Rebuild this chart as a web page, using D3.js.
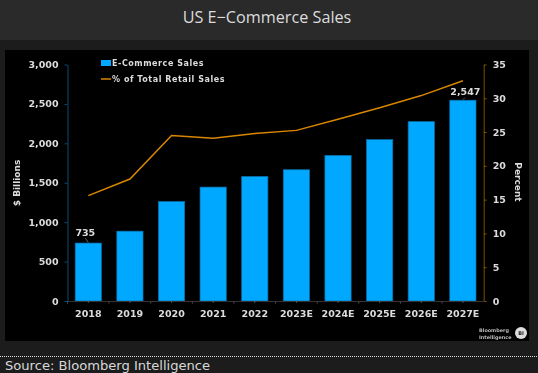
<!DOCTYPE html>
<html><head><meta charset="utf-8">
<script src="https://cdn.jsdelivr.net/npm/d3@7"></script>
<style>html,body{margin:0;padding:0;background:#1c1c1c}svg{display:block}</style>
</head><body>
<svg id="c" width="538" height="373"></svg>
<script>
const categories=["2018","2019","2020","2021","2022","2023E","2024E","2025E","2026E","2027E"];
const salesValues=[735,886,1262,1445,1580,1665,1847,2047,2275,2547];
const shareValues=[15.6,18.05,24.5,24.1,24.8,25.25,26.9,28.6,30.4,32.6];
const leftTicks=[0,500,1000,1500,2000,2500,3000];
const rightTicks=[0,5,10,15,20,25,30,35];
const chartTitle="US E\u2212Commerce Sales";
const sourceText="Source: Bloomberg Intelligence";
const legendLabels=["E-Commerce Sales","% of Total Retail Sales"];
const labelled={"2018":"735","2027E":"2,547"};

const font="'DejaVu Sans',sans-serif";
const outer=d3.select("#c");
outer.append("rect").attr("width",538).attr("height",373).attr("fill","#1c1c1c");
outer.append("rect").attr("width",538).attr("height",40).attr("fill","#2a2a2a");
outer.append("rect").attr("x",5).attr("y",50).attr("width",524).attr("height",291).attr("fill","#000");
outer.append("text").attr("x",267).attr("y",22.5).attr("text-anchor","middle").attr("font-family","'Open Sans',sans-serif").attr("font-size",16.2).attr("fill","#dcdcdc").text(chartTitle);
outer.append("line").attr("x1",0).attr("x2",538).attr("y1",356.5).attr("y2",356.5).attr("stroke","#ddd").attr("stroke-dasharray","1 1");
outer.append("text").attr("x",5).attr("y",370).attr("font-family",font).attr("font-size",13.1).attr("fill","#d8d8d8").text(sourceText);

const svg=outer.append("g").style("filter","blur(0.35px)");
const x=d3.scaleBand().domain(categories).range([67.5,483.7]).paddingInner(0.37).paddingOuter(0.185);
const yL=d3.scaleLinear().domain([0,3000]).range([301,64.5]);
const yR=d3.scaleLinear().domain([0,35]).range([301,64.5]);

const g=svg.append("g");
g.selectAll("rect.bar").data(categories).join("rect").attr("class","bar")
 .attr("x",d=>x(d)).attr("width",x.bandwidth())
 .attr("y",(d,i)=>yL(salesValues[i])).attr("height",(d,i)=>yL(0)-yL(salesValues[i]))
 .attr("fill","#00a9ff").attr("stroke","#0a6ea8").attr("stroke-width",0.7);

const line=d3.line().x(d=>x(d.c)+x.bandwidth()/2).y(d=>yR(d.v));
g.append("path").datum(categories.map((c,i)=>({c,v:shareValues[i]}))).attr("d",line)
 .attr("fill","none").attr("stroke","#d98600").attr("stroke-width",1.5);

function styleAxis(sel,col){
 sel.select(".domain").attr("stroke",col).attr("stroke-width",1);
 sel.selectAll(".tick line").attr("stroke",col);
 sel.selectAll("text").attr("font-family",font).attr("font-weight","bold").attr("font-size",9.5).attr("fill","#dcdcdc");
}
const ax=svg.append("g").attr("transform","translate(67.5,0)")
 .call(d3.axisLeft(yL).tickValues(leftTicks).tickFormat(d3.format(",")).tickSize(3).tickSizeOuter(0));
styleAxis(ax,"#0b4a70"); ax.selectAll("text").attr("x",-9);
const ar=svg.append("g").attr("transform","translate(483.7,0)")
 .call(d3.axisRight(yR).tickValues(rightTicks).tickSize(3).tickSizeOuter(0));
styleAxis(ar,"#7a5200"); ar.selectAll("text").attr("x",9);
const ab=svg.append("g").attr("transform","translate(0,301)")
 .call(d3.axisBottom(x).tickSize(2).tickSizeOuter(0));
styleAxis(ab,"#333"); ab.selectAll("text").attr("y",9);
ab.selectAll(".tick line").attr("stroke","#555");

// category boundary ticks
g.selectAll("line.sep").data(categories).join("line").attr("class","sep")
 .attr("x1",d=>x(d)-x.step()*0.185).attr("x2",d=>x(d)-x.step()*0.185).attr("y1",301).attr("y2",303.5).attr("stroke","#555");

const tx=(t,xp,yp,rot)=>svg.append("text").attr("transform",`translate(${xp},${yp}) rotate(${rot})`).attr("text-anchor","middle")
 .attr("font-family",font).attr("font-weight","bold").attr("font-size",9).attr("fill","#dcdcdc").text(t);
tx("$ Billions",20,183,-90);
tx("Percent",515,182,90);

// value labels and leaders
categories.forEach((c,i)=>{
 if(!labelled[c])return;
 const cx=x(c)+x.bandwidth()/2, top=yL(salesValues[i]);
 const lx=cx+(i?2.5:-3);
 svg.append("text").attr("x",lx).attr("y",top-(i?5:7)).attr("text-anchor","middle").attr("font-family",font).attr("font-weight","bold").attr("font-size",9.5).attr("fill","#dcdcdc").text(labelled[c]);
 svg.append("line").attr("x1",cx+(i?2:-3)).attr("x2",cx).attr("y1",top-(i?2.5:5)).attr("y2",top-0.5).attr("stroke","#888").attr("stroke-width",0.7);
});

// legend
svg.append("rect").attr("x",101).attr("y",60).attr("width",10).attr("height",6).attr("fill","#00a9ff");
svg.append("line").attr("x1",101).attr("x2",111).attr("y1",79).attr("y2",79).attr("stroke","#d98600").attr("stroke-width",1.5);
legendLabels.forEach((t,i)=>svg.append("text").attr("x",112).attr("y",66+i*16).attr("font-family",font).attr("font-weight","bold").attr("font-size",8).attr("letter-spacing",0.55).attr("fill","#dcdcdc").text(t));

// branding
["Bloomberg","Intelligence"].forEach((t,i)=>svg.append("text").attr("x",479).attr("y",332+i*6.8).attr("font-family",font).attr("font-weight","bold").attr("font-size",4.9).attr("fill","#bbb").text(t));
svg.append("circle").attr("cx",521).attr("cy",333).attr("r",6).attr("fill","#ddd");
svg.append("text").attr("x",521).attr("y",335).attr("text-anchor","middle").attr("font-family",font).attr("font-weight","bold").attr("font-size",5).attr("fill","#222").text("BI");
</script>
</body></html>
